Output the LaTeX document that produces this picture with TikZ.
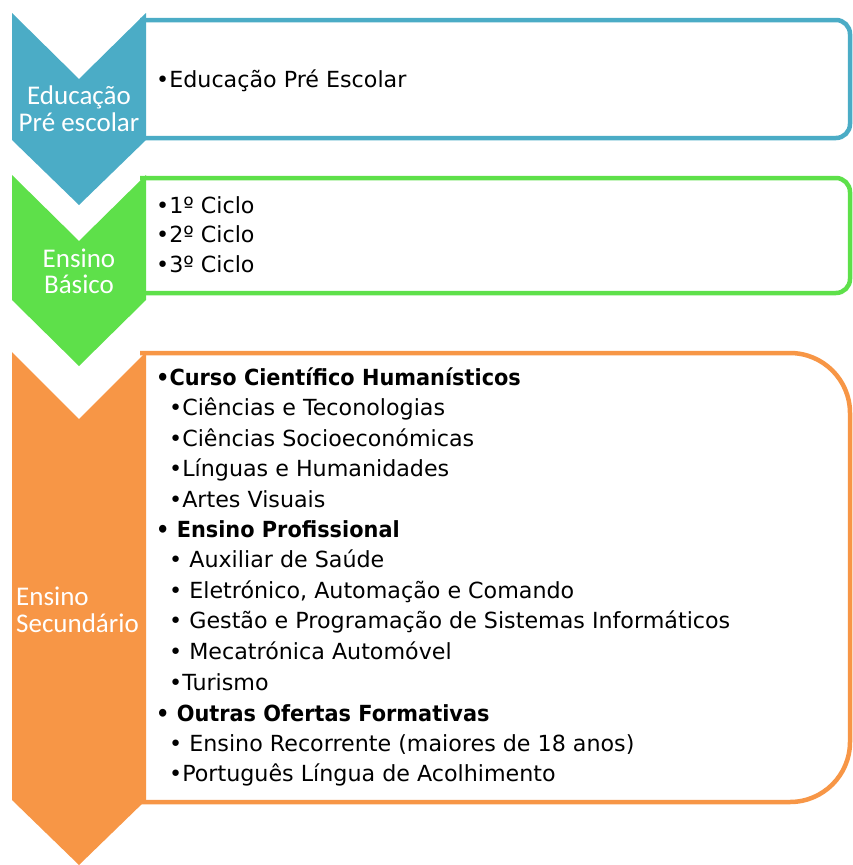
\documentclass[tikz,border=0pt]{standalone}
\usepackage{fontspec}
\newfontfamily\boxfont[BoldFeatures={FakeStretch=0.94}]{DejaVu Sans}
\newfontfamily\stagefont{Carlito}
\definecolor{preblue}{HTML}{4BACC6}
\definecolor{basgreen}{HTML}{5EE04A}
\definecolor{secorange}{HTML}{F79646}

\tikzset{
  frame/.style={draw=#1, line width=4.5pt, fill=white},
  chevron/.style={fill=#1, draw=none},
  stage/.style={text=white, inner sep=0pt, anchor=base,
    font=\stagefont\fontsize{27}{27}\selectfont},
  item/.style={anchor=base west, inner sep=0pt,
    font=\boxfont\fontsize{22.2}{30}\selectfont},
  head/.style={item, font=\boxfont\bfseries\fontsize{22.2}{30}\selectfont},
}

\begin{document}
\begin{tikzpicture}[x=1pt, y=-1pt]
    \useasboundingbox (0,0) rectangle (852,865);
    % Educacao pre escolar
    \draw[frame=preblue, rounded corners=14] (140,20)--(850,20)--(850,138)--(140,138);
    \fill[chevron=preblue] (12,13)--(79,79)--(146,13)--(146,140)--(79,205)--(12,140)--cycle;
    \node[stage] (preA) at (79,104) {Educação};
    \node[stage] (preB) at (79,131) {Pré escolar};
    \node[item] (pre1) at (156,87) {•Educação Pré Escolar};
    % Ensino basico
    \draw[frame=basgreen, rounded corners=14] (140,178)--(850,178)--(850,293)--(140,293);
    \fill[chevron=basgreen] (12,175)--(79,241)--(146,175)--(146,300)--(79,366)--(12,300)--cycle;
    \node[stage] (basA) at (79,267) {Ensino};
    \node[stage] (basB) at (79,293) {Básico};
    \node[item] (bas1) at (156,213) {•1º Ciclo};
    \node[item] (bas2) at (156,242) {•2º Ciclo};
    \node[item] (bas3) at (156,272) {•3º Ciclo};
    % Ensino secundario
    \draw[frame=secorange, rounded corners=60] (140,353)--(850,353)--(850,802)--(140,802);
    \fill[chevron=secorange] (12,352)--(79,419)--(146,352)--(146,800)--(79,865)--(12,800)--cycle;
    \node[stage, anchor=base west] (secA) at (16,605) {Ensino};
    \node[stage, anchor=base west] (secB) at (16,632) {Secundário};
    \node[head] (sec1) at (156,385) {•Curso Científico Humanísticos};
    \node[item] (sec2) at (169,415.5) {•Ciências e Teconologias};
    \node[item] (sec3) at (169,446) {•Ciências Socioeconómicas};
    \node[item] (sec4) at (169,476.5) {•Línguas e Humanidades};
    \node[item] (sec5) at (169,507) {•Artes Visuais};
    \node[head] (sec6) at (156,537) {• Ensino Profissional};
    \node[item] (sec7) at (169,567.5) {• Auxiliar de Saúde};
    \node[item] (sec8) at (169,598) {• Eletrónico, Automação e Comando};
    \node[item] (sec9) at (169,628.5) {• Gestão e Programação de Sistemas Informáticos};
    \node[item] (sec10) at (169,659.5) {• Mecatrónica Automóvel};
    \node[item] (sec11) at (169,690) {•Turismo};
    \node[head] (sec12) at (156,721) {• Outras Ofertas Formativas};
    \node[item] (sec13) at (169,751.5) {• Ensino Recorrente (maiores de 18 anos)};
    \node[item] (sec14) at (169,781) {•Português Língua de Acolhimento};
\end{tikzpicture}
\end{document}
